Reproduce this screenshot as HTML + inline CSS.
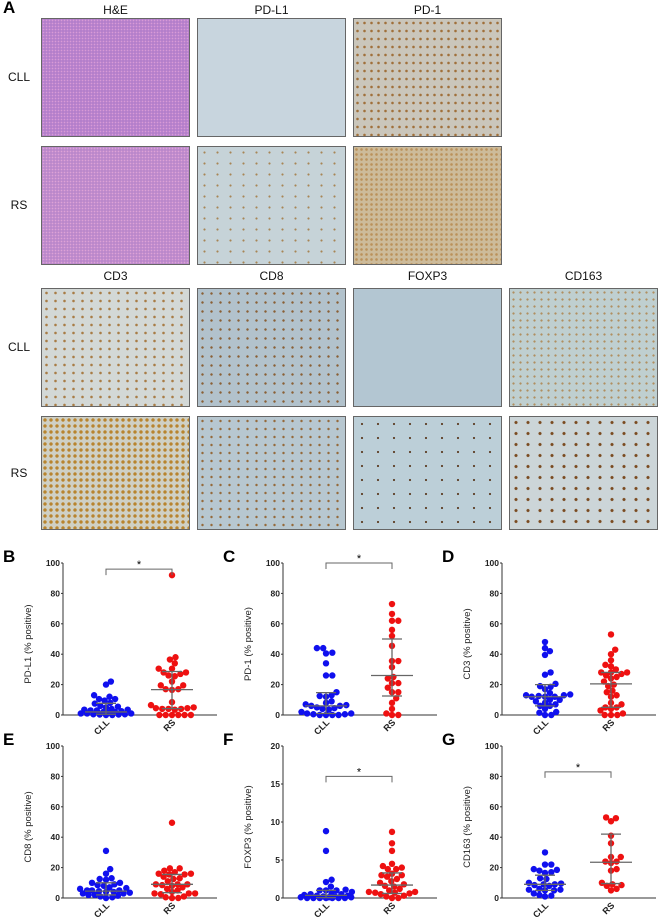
<!DOCTYPE html>
<html><head><meta charset="utf-8">
<style>
body{margin:0;background:#fff;}
#wrap{position:relative;width:660px;height:920px;overflow:hidden;font-family:"Liberation Sans",Arial,sans-serif;}
.t{position:absolute;border:1px solid #666;box-sizing:border-box;}
.lab{position:absolute;font-size:12px;color:#111;text-align:center;}
.pl{position:absolute;font-size:17px;font-weight:bold;color:#000;}
svg{position:absolute;left:0;top:0;}
</style></head><body>
<div id="wrap">
<div class="pl" style="left:3px;top:-2px">A</div>
<div class="lab" style="left:41px;top:3px;width:149px">H&amp;E</div>
<div class="lab" style="left:197px;top:3px;width:149px">PD-L1</div>
<div class="lab" style="left:353px;top:3px;width:149px">PD-1</div>
<div class="lab" style="left:4px;top:70px;width:30px">CLL</div>
<div class="lab" style="left:4px;top:198px;width:30px">RS</div>
<div class="t" style="left:41px;top:18px;width:149px;height:119px;background:radial-gradient(circle,#d99ad6 0.6px,transparent 1px) 0 0/3px 3px,#b47fcb"></div>
<div class="t" style="left:197px;top:18px;width:149px;height:119px;background:#c8d5de"></div>
<div class="t" style="left:353px;top:18px;width:149px;height:119px;background:radial-gradient(circle,#a0703a 1px,transparent 1.6px) 0 0/7px 8px,#cac6bb"></div>
<div class="t" style="left:41px;top:146px;width:149px;height:119px;background:radial-gradient(circle,#dea2d6 0.6px,transparent 1px) 0 0/3px 3px,#bb88cb"></div>
<div class="t" style="left:197px;top:146px;width:149px;height:119px;background:radial-gradient(circle,#a88555 0.8px,transparent 1.3px) 0 0/13px 11px,#c6d3d8"></div>
<div class="t" style="left:353px;top:146px;width:149px;height:119px;background:radial-gradient(circle,#bb915a 1px,transparent 1.6px) 0 0/5px 5px,#cdbb9a"></div>
<div class="lab" style="left:41px;top:269px;width:149px">CD3</div>
<div class="lab" style="left:197px;top:269px;width:149px">CD8</div>
<div class="lab" style="left:353px;top:269px;width:149px">FOXP3</div>
<div class="lab" style="left:509px;top:269px;width:149px">CD163</div>
<div class="lab" style="left:4px;top:340px;width:30px">CLL</div>
<div class="lab" style="left:4px;top:466px;width:30px">RS</div>
<div class="t" style="left:41px;top:288px;width:149px;height:119px;background:radial-gradient(circle,#a87c45 1px,transparent 1.6px) 0 0/9px 8px,#d3d8d6"></div>
<div class="t" style="left:197px;top:288px;width:149px;height:119px;background:radial-gradient(circle,#8a6035 0.9px,transparent 1.5px) 0 0/9px 9px,#b2c2cc"></div>
<div class="t" style="left:353px;top:288px;width:149px;height:119px;background:#b3c6d2"></div>
<div class="t" style="left:509px;top:288px;width:149px;height:119px;background:radial-gradient(circle,#b08f60 0.8px,transparent 1.4px) 0 0/7px 7px,#bfcfd0"></div>
<div class="t" style="left:41px;top:416px;width:149px;height:114px;background:radial-gradient(circle,#b8842e 1.4px,transparent 2px) 0 0/6px 6px,#cfd0c4"></div>
<div class="t" style="left:197px;top:416px;width:149px;height:114px;background:radial-gradient(circle,#95693a 0.9px,transparent 1.5px) 0 0/9px 8px,#b7c7d0"></div>
<div class="t" style="left:353px;top:416px;width:149px;height:114px;background:radial-gradient(circle,#5a3a20 0.8px,transparent 1.3px) 0 0/16px 14px,#bccfd8"></div>
<div class="t" style="left:509px;top:416px;width:149px;height:114px;background:radial-gradient(circle,#7a4a20 1.2px,transparent 1.9px) 0 0/12px 11px,#ccd5d8"></div>
<svg id="ch" width="660" height="920"></svg>
</div>
<script>
const panelLetters=["B","C","D","E","F","G"];
const yTitles=["PD-L1 (% positive)","PD-1 (% positive)","CD3 (% positive)","CD8 (% positive)","FOXP3 (% positive)","CD163 (% positive)"];
const categories=["CLL","RS"];
const yMax=[100,100,100,100,20,100];
const yTicks=[[0,20,40,60,80,100],[0,20,40,60,80,100],[0,20,40,60,80,100],[0,20,40,60,80,100],[0,5,10,15,20],[0,20,40,60,80,100]];
const significant=[true,true,false,false,true,true];
const bracketValue=[96,100,0,0,16,83];
const cllValues=[
[22,20,13,12,10.5,10.5,9.5,8,7.5,6,5.5,5,4,3.5,3.5,3,3,2.5,2,2,1.5,1,1,1,0.5,0.5,0.3,0.3,0,0],
[44,44,41,40.5,34,26,26,15,13,12.5,12,9,8,7,6.5,6,6,5,4.5,4,3.5,2,1,1,0.5,0.5,0,0,0,0],
[48,44,42,39.5,28,26.5,20.5,19,18.5,17,14.5,13.5,13,13,12.5,12,12,12,10,10,9,8,7,6,6,4,2,1.5,0,0],
[31,19,16,13,12.5,12,10,10,9,8.5,8,7,6.5,6,5,5,5,4.5,4,4,3.5,3,3,2,2,1.5,1,0.5,0],
[8.8,6.2,2.4,2.1,1.5,1.1,1,1,1,0.8,0.6,0.5,0.5,0.4,0.3,0.3,0.2,0.2,0.1,0.1,0.1,0,0,0,0,0,0,0],
[30,22,22,19,18.5,18,17,16.5,13,12.5,10,9.5,9,9,8.5,8,6,5.5,5.5,5,5,3,2,1.5,1]];
const rsValues=[
[92,38,36.5,34,30.5,30.5,28,27,26,25.5,28,22,19.5,19.5,17,17,16.5,8.5,6.5,5,4.5,4.5,4,4,3.5,4,0,0,0,0,0,0],
[73,66.5,62,62,56,52,45.5,35.5,35.5,31.5,25,24,21,21,18,15,15,11,8,4,1,0,0],
[53,43,40,36,33,32,30,28,28,28,27,26,25,24,22,20,19,16,15,13,12,8,7,5,5,4,3,1,0,0,0],
[49.5,19.5,19.5,18,17,16,16,15.5,15.5,14,13,12.5,11,9,9,9,8.5,8,7,6,5,4,3,3,3,2.5,1,0.5,0,0],
[8.7,7.2,6.2,4.5,4.2,4,3.8,3.8,3.2,3,3,2.8,2.5,2.2,2,1.8,1.6,1.5,1.2,1,0.8,0.8,0.7,0.7,0.6,0.5,0.3,0.2,0,0],
[53,52.5,50.5,41,36,27,27,24,24,23,19,18,10,9,8.5,8,6,5]];
const cllMedian=[2,6,12,4.5,0.35,9], cllQ1=[0.5,1,6,2,0.05,5], cllQ3=[7.7,14.7,20,10,1,15];
const rsMedian=[16.7,26,20.5,9,1.7,23.5], rsQ1=[4.2,12.5,5,3.5,0.6,9.5], rsQ3=[28.6,50,28,15.5,3.3,42];

const NS="http://www.w3.org/2000/svg";
const svg=document.getElementById('ch');
function mk(tag,attrs,parent){const e=document.createElementNS(NS,tag);for(const k in attrs)e.setAttribute(k,attrs[k]);(parent||svg).appendChild(e);return e;}
function swarm(vals,cx,yf,r){
  const pts=[];const sorted=vals.slice().sort((a,b)=>a-b);
  const minD=2*r*0.9, cap=26;
  const cands=[0];for(let k=1;k*0.7<=cap;k++){cands.push(k*0.7,-k*0.7);}
  sorted.forEach(v=>{const y=yf(v);let best=null,bestScore=-1,bestX=cx;
    for(const o of cands){const x=cx+o;
      let md=1e9;pts.forEach(p=>{const d=Math.hypot(p.x-x,p.y-y);if(d<md)md=d;});
      if(md>=minD){best=x;break;}
      if(md>bestScore){bestScore=md;bestX=x;}}
    pts.push({x:best===null?bestX:best,y:y});});
  return pts;
}
for(let i=0;i<6;i++){
  const ox=[0,220,439][i%3];
  const yTop=i<3?563:746, yZero=i<3?715:898;
  const ax=ox+63, axEnd=ox+217;
  const yf=v=>yZero-(v/yMax[i])*(yZero-yTop);
  const xc=[ox+106,ox+172];
  const g=mk('g',{});
  
  
  const pl=mk('text',{x:ox+3,y:yTop-1,'font-size':17,'font-weight':'bold','font-family':'Liberation Sans, Arial, sans-serif'},g);
  pl.textContent=panelLetters[i];
  
  
  mk('line',{x1:ax,y1:yTop,x2:ax,y2:yZero,stroke:'#333','stroke-width':1},g);
  mk('line',{x1:ax,y1:yZero,x2:axEnd,y2:yZero,stroke:'#333','stroke-width':1},g);
  yTicks[i].forEach(t=>{const y=yf(t);
    mk('line',{x1:ax-2,y1:y,x2:ax,y2:y,stroke:'#333'},g);
    const tx=mk('text',{x:ax-3,y:y+3,'text-anchor':'end','font-size':8.5,'font-weight':'bold','font-family':'Liberation Sans, Arial, sans-serif',fill:'#222'},g);
    tx.textContent=t;
    
    });
  const yt=mk('text',{transform:`translate(${ox+31},${(yTop+yZero)/2+5}) rotate(-90)`,'text-anchor':'middle','font-size':9.5,'font-family':'Liberation Sans, Arial, sans-serif',fill:'#222'},g);
  yt.textContent=yTitles[i];
  
  
  categories.forEach((c,j)=>{
    const xl=mk('text',{transform:`translate(${xc[j]+4},${yZero+8}) rotate(-45)`,'text-anchor':'end','font-size':9,'font-weight':'bold','font-family':'Liberation Sans, Arial, sans-serif',fill:'#222'},g);
    xl.textContent=c;
    
    
  });
  const sets=[cllValues[i],rsValues[i]],cols=['#1010ee','#ee1111'];
  sets.forEach((vals,j)=>{swarm(vals,xc[j],yf,3.2).forEach(p=>{
    const c=mk('circle',{cx:p.x,cy:p.y,r:3.2,fill:cols[j]},g);
    
    });});
  const med=[cllMedian[i],rsMedian[i]],q1=[cllQ1[i],rsQ1[i]],q3=[cllQ3[i],rsQ3[i]];
  for(let j=0;j<2;j++){
    const s={stroke:'#666','stroke-width':1.3};
    mk('line',Object.assign({x1:xc[j],y1:yf(q1[j]),x2:xc[j],y2:yf(q3[j])},s),g);
    mk('line',Object.assign({x1:xc[j]-21,y1:yf(med[j]),x2:xc[j]+21,y2:yf(med[j])},s),g);
    mk('line',Object.assign({x1:xc[j]-10,y1:yf(q1[j]),x2:xc[j]+10,y2:yf(q1[j])},s),g);
    mk('line',Object.assign({x1:xc[j]-10,y1:yf(q3[j]),x2:xc[j]+10,y2:yf(q3[j])},s),g);
  }
  if(significant[i]){const by=yf(bracketValue[i]);
    const br=mk('path',{d:`M${xc[0]},${by+6}V${by}H${xc[1]}V${by+6}`,fill:'none',stroke:'#666','stroke-width':1},g);
    
    
    const st=mk('text',{x:(xc[0]+xc[1])/2,y:by-1,'text-anchor':'middle','font-size':11,'font-family':'Liberation Sans, Arial, sans-serif'},g);
    st.textContent='*';
    
    }
}
</script>
</body></html>
